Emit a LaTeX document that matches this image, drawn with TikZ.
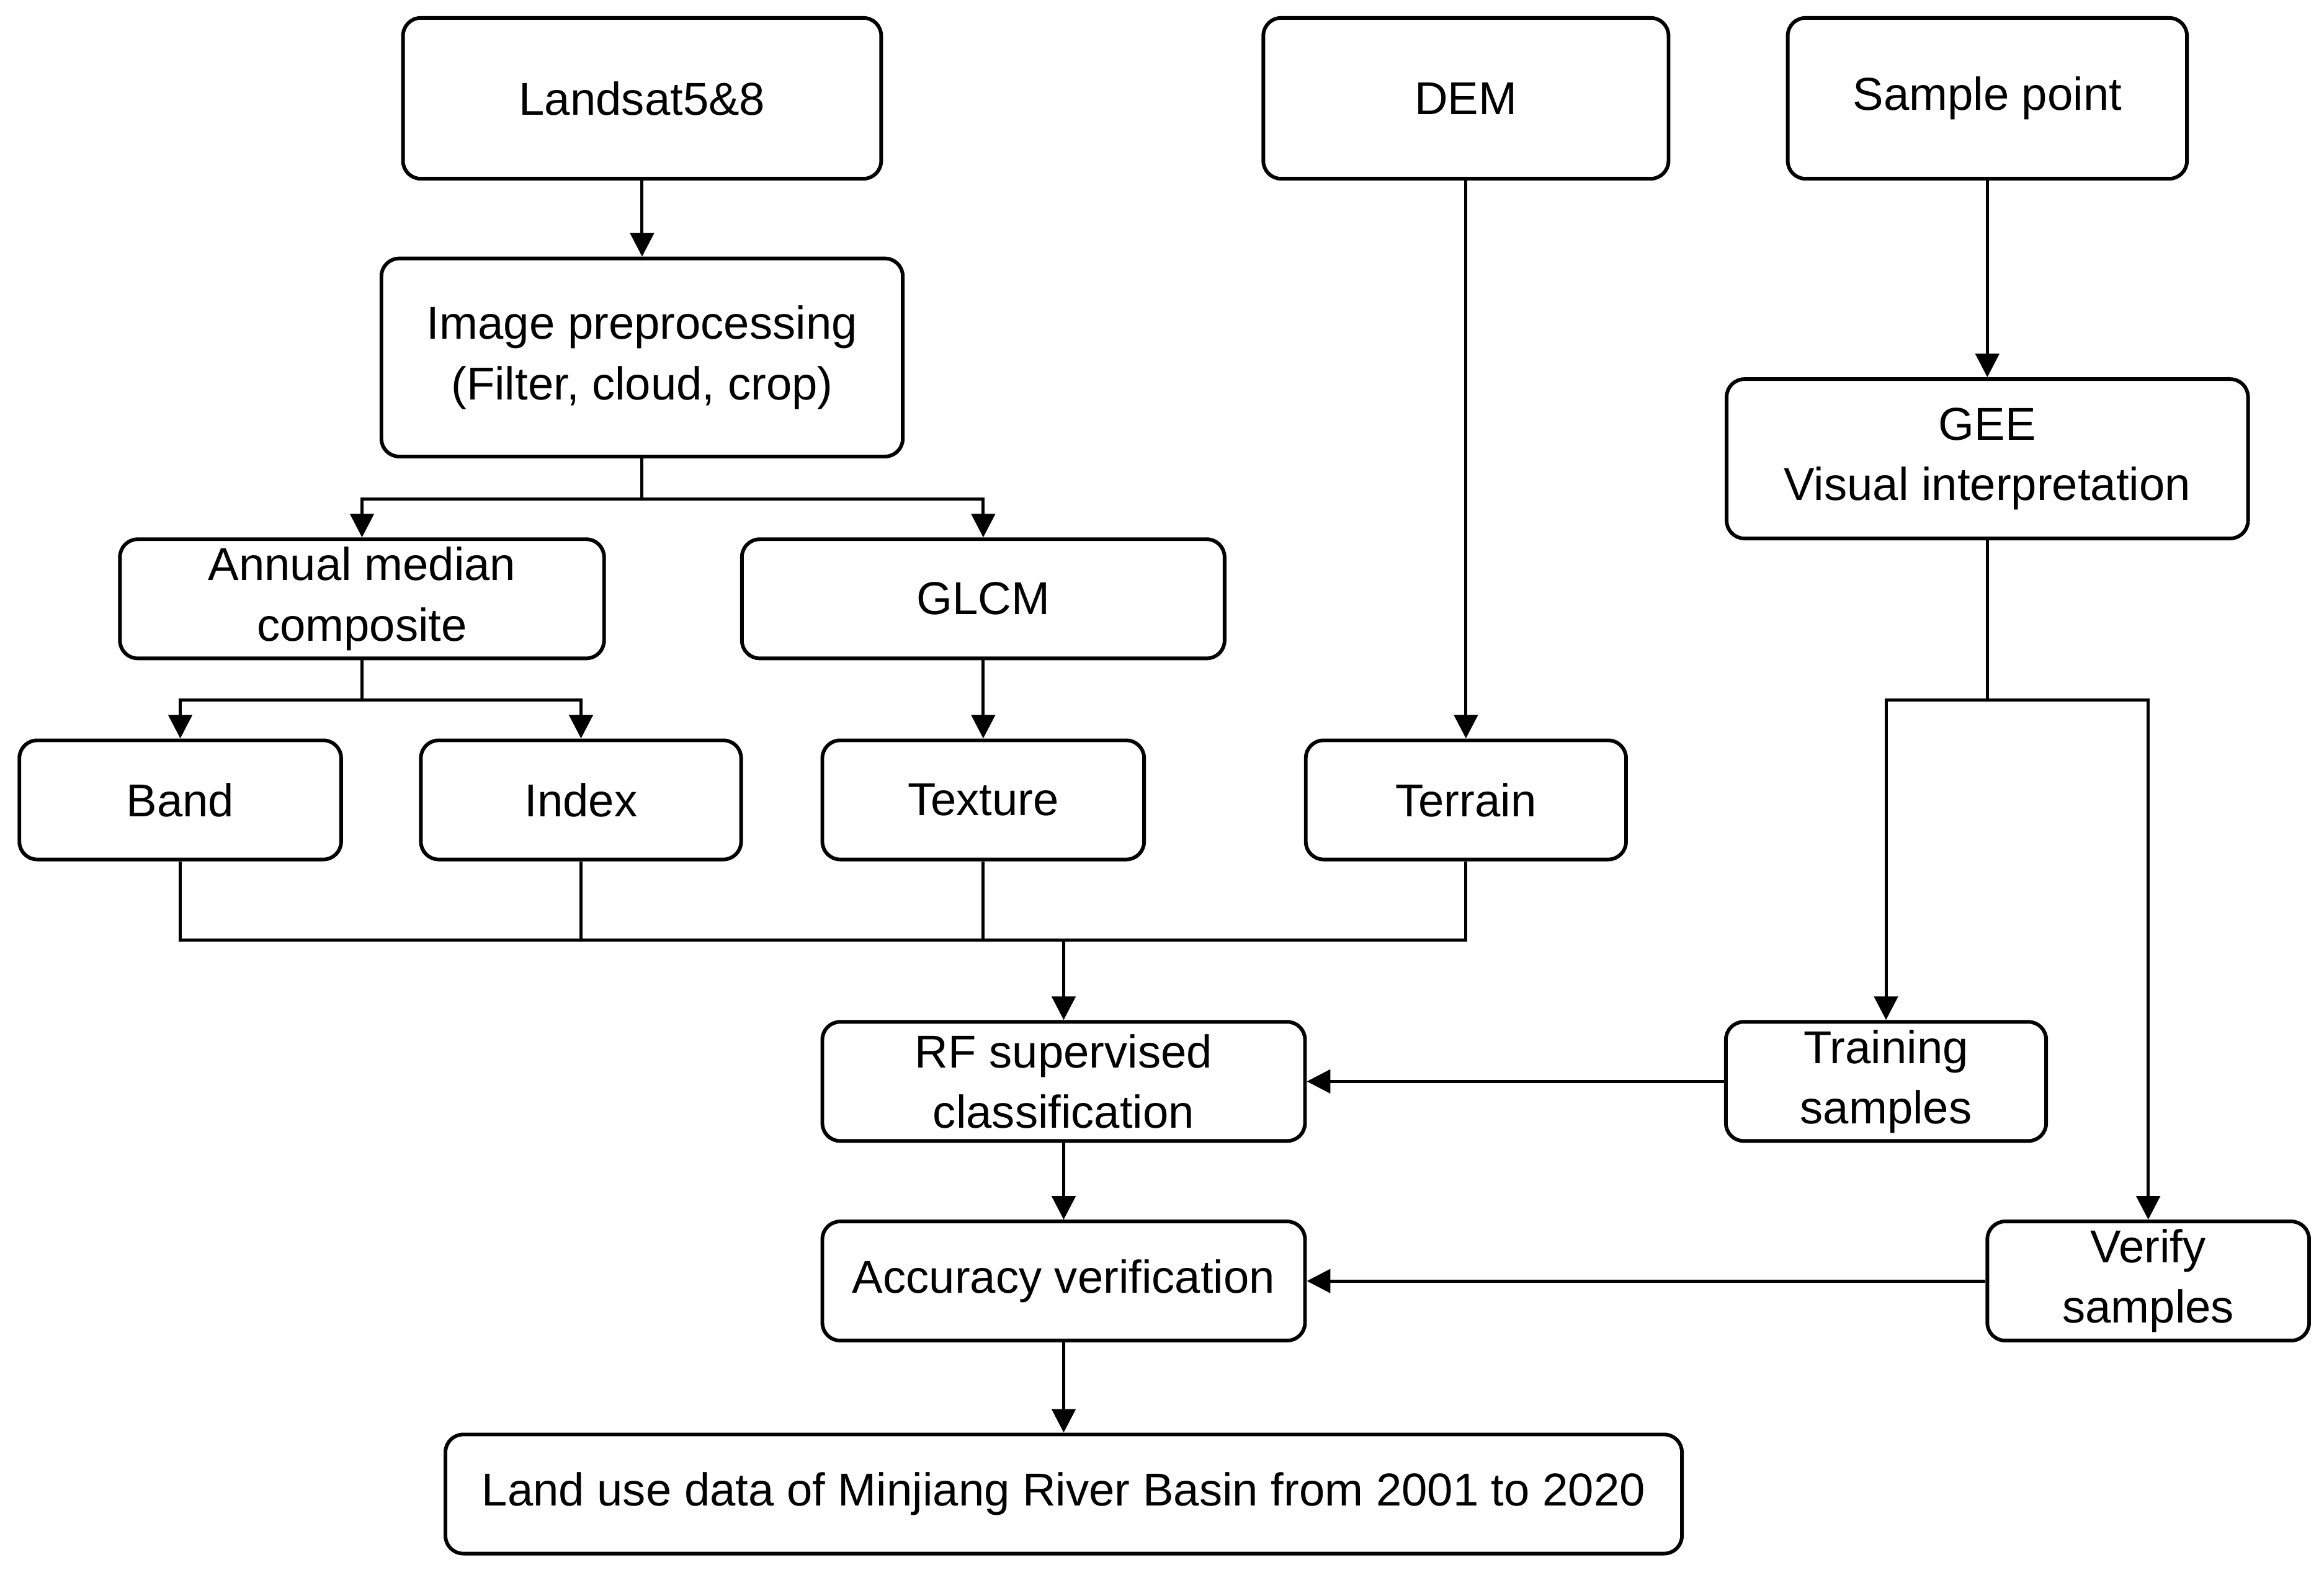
\documentclass[tikz,border=0pt]{standalone}
\usepackage{fontspec}
\setmainfont{Liberation Sans}
\usetikzlibrary{arrows.meta}
\begin{document}
\begin{tikzpicture}[x=0.01cm,y=-0.01cm,
  box/.style={draw,rounded corners=0.12cm,line width=0.7pt,align=center,inner sep=0pt,font=\fontsize{8.8pt}{11.5pt}\selectfont},
  ln/.style={line width=0.6pt},
  ar/.style={ln,-{Triangle[length=4.5pt,width=4.5pt]}}]
\useasboundingbox (0,0) rectangle (1560,1054);
\newcommand{\bx}[7]{\node[box,minimum width=#3*0.01cm,minimum height=#4*0.01cm] (#1) at (#5,#6) {#7};}
\bx{land}{0}{321}{108}{431}{66}{Landsat5\&8}
\bx{dem}{0}{272}{108}{984}{66}{DEM}
\bx{samp}{0}{268}{108}{1334}{66}{Sample point}
\bx{pre}{0}{350}{133}{431}{240}{Image preprocessing\\(Filter, cloud, crop)}
\bx{gee}{0}{350}{107}{1334}{308}{GEE\\Visual interpretation}
\bx{ann}{0}{325}{80}{243}{402}{Annual median\\composite}
\bx{glcm}{0}{324}{80}{660}{402}{GLCM}
\bx{band}{0}{216}{80}{121}{537}{Band}
\bx{idx}{0}{215}{80}{390}{537}{Index}
\bx{tex}{0}{216}{80}{660}{537}{Texture}
\bx{ter}{0}{215}{80}{984}{537}{Terrain}
\bx{rf}{0}{324}{80}{714}{726}{RF supervised\\classification}
\bx{train}{0}{215}{80}{1266}{726}{Training\\samples}
\bx{acc}{0}{324}{80}{714}{860}{Accuracy verification}
\bx{ver}{0}{216}{80}{1442}{860}{Verify\\samples}
\bx{out}{0}{830}{80}{714}{1003}{Land use data of Minjiang River Basin from 2001 to 2020}
\coordinate (j1) at (431,335);
\coordinate (j2) at (243,470);
\coordinate (j3) at (714,631);
\coordinate (j4) at (1334,470);
\draw[ar] (land) -- (pre);
\draw[ln] (pre) -- (j1);
\draw[ar] (j1) -| (ann.north);
\draw[ar] (j1) -| (glcm.north);
\draw[ln] (ann) -- (j2);
\draw[ar] (j2) -| (band.north);
\draw[ar] (j2) -| (idx.north);
\draw[ar] (glcm) -- (tex);
\draw[ar] (dem) -- (ter);
\draw[ln] (band.south) |- (j3);
\draw[ln] (idx.south) |- (j3);
\draw[ln] (tex.south) |- (j3);
\draw[ln] (ter.south) |- (j3);
\draw[ar] (j3) -- (rf);
\draw[ar] (samp) -- (gee);
\draw[ln] (gee) -- (j4);
\draw[ar] (j4) -| (train.north);
\draw[ar] (j4) -| (ver.north);
\draw[ar] (train) -- (rf);
\draw[ar] (ver) -- (acc);
\draw[ar] (rf) -- (acc);
\draw[ar] (acc) -- (out);
\end{tikzpicture}
\end{document}
